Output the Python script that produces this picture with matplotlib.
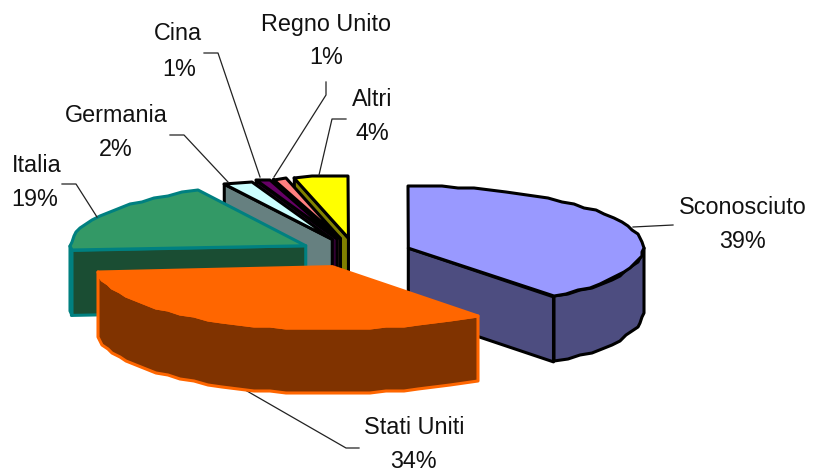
import numpy as np
import matplotlib
matplotlib.use('Agg')
import matplotlib.pyplot as plt

plt.rcParams['font.family'] = ['Liberation Sans', 'DejaVu Sans']

# clockwise from 12 o'clock
labels = ['Sconosciuto', 'Stati Uniti', 'Italia', 'Germania', 'Cina', 'Regno Unito', 'Altri']
values = [39.4, 34.4, 18.6, 2.0, 1.0, 0.9, 3.7]
top_colors = ['#9999FF', '#FF6600', '#339966', '#CCFFFF', '#660066', '#FF8080', '#FFFF00']
side_colors = ['#4D4D80', '#803300', '#1A4D33', '#668080', '#330033', '#804040', '#808000']
edge_colors = ['black', '#FF6600', '#008080', 'black', 'black', 'black', 'black']

# drawn back to front
draw_order = [6, 5, 4, 3, 2, 0, 1]

# pie geometry in pixels
cx, cy = 355, 253
rx, ry = 235, 62
depth = 65
explode = 0.24

# label text: name x,y then percent x,y
name_pos = [(743, 207), (414, 428), (37, 165), (116, 116), (178, 34), (326, 24), (372, 99)]
pct_pos = [(743, 241), (413, 462), (35, 199), (116, 150), (179, 69), (326, 57), (372, 133)]

# leader lines
leaders = [
    ([633, 673], [227, 225]),
    ([240, 346, 359], [387, 448, 448]),
    ([62, 76, 97], [184, 184, 217]),
    ([170, 184, 228], [135, 135, 182]),
    ([204, 218, 260], [53, 53, 177]),
    ([274, 326, 326], [177, 95, 82]),
    ([319, 332, 346], [175, 119, 119]),
]

fig = plt.figure(figsize=(8.16, 4.72), dpi=100)
ax = fig.add_axes([0, 0, 1, 1])
ax.set_xlim(0, 816)
ax.set_ylim(472, 0)
ax.axis('off')

ends = np.cumsum(values) / sum(values) * 360
starts = np.concatenate([[0], ends[:-1]])


def arc(x0, y0, t0, t1):
    # coarse steps and pixel snapping, the original edge is wobbly too
    n = max(2, int((t1 - t0) / 4) + 1)
    t = np.radians(np.linspace(t0, t1, n))
    x = x0 + rx * np.sin(t)
    y = y0 - ry * np.cos(t)
    return np.round(x / 2) * 2, np.round(y / 2) * 2


for i in draw_order:
    t0, t1 = starts[i], ends[i]
    mid = np.radians((t0 + t1) / 2)
    x0 = cx + explode * rx * np.sin(mid)
    y0 = cy - explode * ry * np.cos(mid)
    face = dict(edgecolor=edge_colors[i], linewidth=2.2, joinstyle='round', zorder=2)

    # radial walls that face the viewer
    for t, visible in ((t0, np.sin(np.radians(t0)) < -1e-6), (t1, np.sin(np.radians(t1)) > 1e-6)):
        if visible:
            ex = x0 + rx * np.sin(np.radians(t))
            ey = y0 - ry * np.cos(np.radians(t))
            ax.fill([x0, ex, ex, x0], [y0, ey, ey + depth, y0 + depth],
                    facecolor=side_colors[i], **face)

    # outer wall, front half only
    a0, a1 = max(t0, 90), min(t1, 270)
    if a1 > a0:
        wx, wy = arc(x0, y0, a0, a1)
        ax.fill(np.concatenate([wx, wx[::-1]]), np.concatenate([wy, wy[::-1] + depth]),
                facecolor=side_colors[i], **face)

    # top face
    tx, ty = arc(x0, y0, t0, t1)
    ax.fill(np.concatenate([[x0], tx]), np.concatenate([[y0], ty]),
            facecolor=top_colors[i], **face)

for lx, ly in leaders:
    ax.plot(lx, ly, color='#222222', linewidth=0.9, zorder=1 if lx[0] == 240 else 3)

for i in range(len(labels)):
    ax.text(name_pos[i][0], name_pos[i][1], labels[i], fontsize=16.8, ha='center', va='center', color='#111111')
    ax.text(pct_pos[i][0], pct_pos[i][1], f'{values[i]:.0f}%', fontsize=16.8, ha='center', va='center', color='#111111')

fig.savefig('out.png', dpi=100)
